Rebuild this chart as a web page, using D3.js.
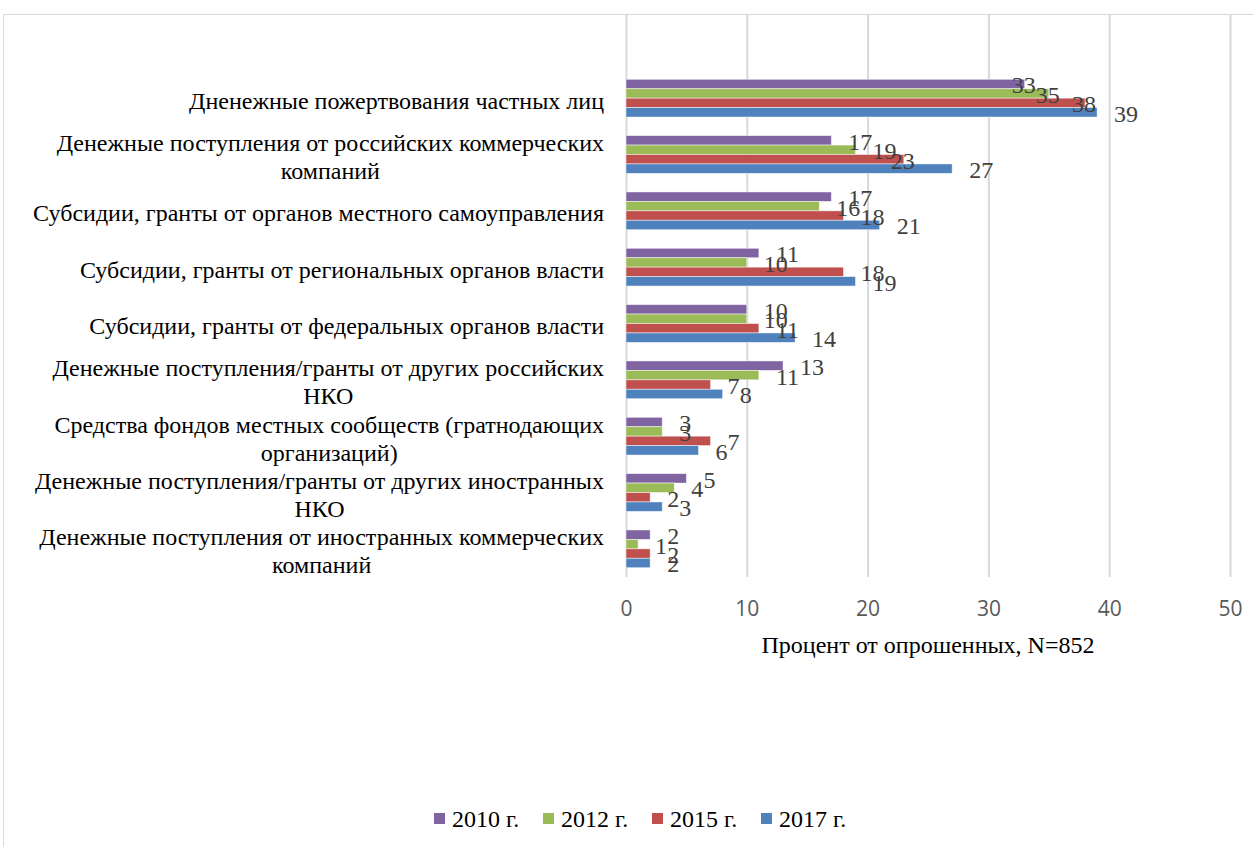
<!DOCTYPE html>
<html>
<head>
<meta charset="utf-8">
<script src="https://cdn.jsdelivr.net/npm/d3@7"></script>
<style>
  body { margin: 0; background: #fff; }
  svg { display: block; }
</style>
</head>
<body>
<svg id="chart"></svg>
<script>
// categories (top to bottom), each as lines of the label
const categories = [
  ["Дненежные пожертвования частных лиц"],
  ["Денежные поступления от российских коммерческих", "компаний"],
  ["Субсидии, гранты от органов местного самоуправления"],
  ["Субсидии, гранты от региональных органов власти"],
  ["Субсидии, гранты от федеральных органов власти"],
  ["Денежные поступления/гранты от других российских", "НКО"],
  ["Средства фондов местных сообществ (гратнодающих", "организаций)"],
  ["Денежные поступления/гранты от других иностранных", "НКО"],
  ["Денежные поступления от иностранных коммерческих", "компаний"]
]
const series = ["2010 г.", "2012 г.", "2015 г.", "2017 г."]
const v2010 = [33, 17, 17, 11, 10, 13, 3, 5, 2]
const v2012 = [35, 19, 16, 10, 10, 11, 3, 4, 1]
const v2015 = [38, 23, 18, 18, 11, 7, 7, 2, 2]
const v2017 = [39, 27, 21, 19, 14, 8, 6, 3, 2]
const xTicks = [0, 10, 20, 30, 40, 50]
const axisTitle = "Процент от опрошенных, N=852"

const colors = ["#8064A2", "#9BBB59", "#C0504D", "#4F81BD"]
// labels Excel pushed back over the bar end: [category, series]
const leftLabels = [[0, 0], [0, 1], [0, 2], [1, 2]]

const serif = "'Liberation Serif', 'Times New Roman', serif"
const fs = 24

const width = 1253, height = 847
const svg = d3.select("#chart").attr("width", width).attr("height", height)

// chart frame
svg.append("rect")
  .attr("x", 3.5).attr("y", 14.5)
  .attr("width", width + 10).attr("height", height + 10)
  .attr("fill", "none").attr("stroke", "#d9d9d9")

const values = [v2010, v2012, v2015, v2017]
const rows = categories.map((c, i) => ({
  idx: i, label: c,
  vals: series.map((s, j) => ({ s: j, v: values[j][i] }))
}))

const x = d3.scaleLinear().domain([0, 50]).range([626, 1230])
const y = d3.scaleBand().domain(d3.range(categories.length)).range([70, 577])
  .paddingInner(0.33).paddingOuter(0.165)
const ySub = d3.scaleBand().domain(d3.range(series.length)).range([0, y.bandwidth()])

// gridlines
svg.append("g").selectAll("line").data(xTicks).enter().append("line")
  .attr("x1", d => x(d) + 0.5).attr("x2", d => x(d) + 0.5)
  .attr("y1", 15).attr("y2", 577)
  .attr("stroke", "#d9d9d9").attr("stroke-width", 2)

// x axis labels
const axis = d3.axisBottom(x).tickValues(xTicks).tickSize(0).tickPadding(0)
const ax = svg.append("g").attr("transform", "translate(0,609)").call(axis)
ax.select(".domain").remove()
ax.selectAll("text")
  .attr("font-family", "'Open Sans', sans-serif")
  .attr("font-size", 21).attr("fill", "#595959")
  .attr("dy", "0.35em")

// bars
const groups = svg.append("g").selectAll("g").data(rows).enter().append("g")
  .attr("transform", d => `translate(0,${y(d.idx)})`)

groups.selectAll("rect").data(d => d.vals).enter().append("rect")
  .attr("x", x(0))
  .attr("y", d => ySub(d.s))
  .attr("width", d => x(d.v) - x(0))
  .attr("height", ySub.bandwidth())
  .attr("fill", d => colors[d.s])
  .attr("stroke", "#ffffff").attr("stroke-opacity", 0.6).attr("stroke-width", 0.8)

// data labels
groups.each(function(row) {
  d3.select(this).selectAll("text.val").data(row.vals).enter().append("text")
    .attr("class", "val")
    .attr("x", d => {
      let left = leftLabels.some(p => p[0] === row.idx && p[1] === d.s)
      return left ? x(d.v) - 13 : x(d.v) + 17
    })
    .attr("y", d => ySub(d.s) + ySub.bandwidth() / 2 + 1)
    .attr("dy", "0.35em")
    .attr("font-family", serif)
    .attr("font-size", fs).attr("fill", "#404040")
    .text(d => d.v)
})

// category labels: right aligned block, lines centered within it
const labelRight = 604
const lineH = 28
rows.forEach(row => {
  const cy = y(row.idx) + y.bandwidth() / 2 + 2
  const g = svg.append("g")
  const n = row.label.length
  const texts = row.label.map((line, k) => g.append("text")
    .attr("y", cy + (k - (n - 1) / 2) * lineH)
    .attr("dy", "0.35em")
    .attr("font-family", serif)
    .attr("font-size", fs).attr("fill", "#000")
    .text(line))
  const w = d3.max(texts, t => t.node().getComputedTextLength())
  texts.forEach(t => t.attr("x", labelRight - w / 2).attr("text-anchor", "middle"))
})

// axis title
svg.append("text")
  .attr("x", 928).attr("y", 653)
  .attr("text-anchor", "middle")
  .attr("font-family", serif)
  .attr("font-size", fs).attr("fill", "#000")
  .text(axisTitle)

// legend
const legend = svg.append("g").selectAll("g").data(series).enter().append("g")
  .attr("transform", (d, i) => `translate(${434 + i * 109},813)`)
legend.append("rect")
  .attr("width", 11).attr("height", 11)
  .attr("fill", (d, i) => colors[i])
legend.append("text")
  .attr("x", 18).attr("y", 6).attr("dy", "0.35em")
  .attr("font-family", serif)
  .attr("font-size", fs).attr("fill", "#000")
  .text(d => d)
</script>
</body>
</html>
